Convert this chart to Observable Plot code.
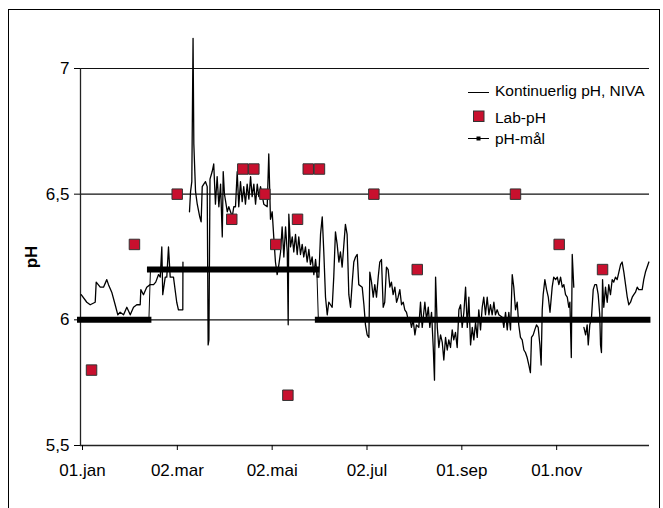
<!DOCTYPE html>
<html>
<head>
<meta charset="utf-8">
<script src="https://cdn.jsdelivr.net/npm/d3@7"></script>
<script src="https://cdn.jsdelivr.net/npm/@observablehq/plot@0.6"></script>
<style>
  html, body { margin: 0; padding: 0; background: #fff; }
  #wrap { position: relative; width: 663px; height: 508px; overflow: hidden; font-family: Arial, "Liberation Sans", sans-serif; }
  #frame { position: absolute; left: 8px; top: 9px; width: 652px; height: 520px; border: 1px solid #000; box-sizing: border-box; }
  #legend { position: absolute; left: 0; top: 0; }
  svg g[aria-label="y-axis label"] text { font-weight: bold; }
</style>
</head>
<body>
<div id="wrap"><div id="frame"></div></div>
<script>
// ---- data (day offset from 01.jan, pH) ----
const yearStart = Date.UTC(2008, 0, 1);

const continuousPH = [
  [0.45,6.10],[4.05,6.07],[6.24,6.06],[9.46,6.07],[10.1,6.15],[12.7,6.13],[14.8,6.13],[16.9,6.16],[18.0,6.14],
  [20.1,6.11],[22.3,6.06],[24.0,6.02],[25.5,6.03],[27.7,6.02],[29.8,6.05],[32.0,6.02],[34.1,6.05],[36.2,6.06],
  [38.4,6.06],[38.8,6.12],[40.5,6.10],[42.6,6.13],[44.8,6.14],[47.0,6.14],[48.4,6.15],[50.2,6.18],[51.3,6.17],
  [52.3,6.29],[52.9,6.10],[54.5,6.17],[55.5,6.17],[56.6,6.29],[57.7,6.17],[59.8,6.17],[61.9,6.07],[63.0,6.04],
  [65.8,6.04],[65.9,6.23],[66.0,NaN],
  [70.1,6.43],[70.8,6.51],[71.6,6.55],[72.4,7.12],[72.9,6.70],[74.0,6.51],[75.1,6.46],[76.7,6.41],[77.6,6.39],
  [78.3,6.53],[79.3,6.54],[80.4,6.55],[81.5,6.53],[82.1,5.90],[82.6,5.92],[83.3,6.56],[84.7,6.59],[85.7,6.62],
  [86.8,6.46],[87.9,6.57],[89.0,6.45],[90.1,6.54],[91.2,6.33],[91.8,6.59],[92.6,6.50],[94.4,6.43],[95.4,6.45],
  [96.5,6.43],[97.6,6.41],[98.6,6.45],[99.7,6.45],[100.8,6.59],[101.8,6.45],[102.9,6.55],[104.0,6.47],[105.0,6.53],
  [106.1,6.46],[107.2,6.54],[108.3,6.48],[109.4,6.57],[110.4,6.49],[111.5,6.54],[112.6,6.46],[113.7,6.54],[114.7,6.49],
  [115.8,6.53],[117.9,6.46],[120.1,6.45],[121.1,6.66],[122.2,6.40],[123.3,6.43],[124.3,6.33],[125.4,6.23],[126.5,6.18],
  [127.6,6.22],[128.7,6.27],[129.7,6.37],[130.8,6.25],[131.9,6.37],[133.0,6.27],[133.6,5.98],[134.0,6.42],[135.1,6.29],
  [136.2,6.33],[137.2,6.27],[138.3,6.34],[139.4,6.26],[140.4,6.33],[141.5,6.26],[142.6,6.30],[143.6,6.25],[144.7,6.29],
  [145.8,6.23],[146.9,6.28],[147.9,6.22],[149.0,6.25],[150.1,6.18],[151.2,6.24],[152.3,6.17],[153.3,6.17],[154.4,6.34],
  [155.5,6.41],[156.5,6.27],[157.6,6.09],[158.7,6.02],[159.7,6.07],[160.8,6.06],[161.9,6.05],[162.9,6.17],[164.0,6.35],
  [165.1,6.30],[166.2,6.23],[167.2,6.27],[168.3,6.21],[170.4,6.38],[171.5,6.34],[172.6,6.10],[173.7,6.05],[174.8,6.15],
  [175.8,6.23],[176.9,6.25],[178.0,6.26],[179.0,6.14],[181.2,6.13],[182.3,6.06],[183.3,5.98],[184.4,5.94],[185.5,5.93],
  [186.1,6.19],[187.2,6.15],[188.3,6.09],[189.3,6.14],[190.4,6.09],[191.5,6.17],[192.5,6.23],[193.6,6.24],[194.7,6.05],
  [195.7,6.07],[196.8,6.21],[197.9,6.20],[199.0,6.13],[200.0,6.15],[201.1,6.10],[202.2,6.13],[203.3,6.07],[204.3,6.09],
  [205.4,6.12],[206.5,6.06],[207.6,6.07],[208.6,6.04],[209.7,6.03],[210.8,6.00],[211.8,6.01],[212.9,5.97],[214.0,6.00],
  [215.1,5.94],[216.1,5.98],[217.6,5.97],[218.7,6.07],[219.8,5.97],[221.5,6.07],[222.6,6.00],[223.7,6.05],[224.7,5.97],
  [225.8,6.03],[226.9,5.89],[227.7,5.76],[228.4,6.17],[229.5,5.97],[230.5,5.89],[231.6,5.94],[232.7,5.91],[233.7,5.84],
  [234.8,5.93],[235.9,5.88],[236.9,5.92],[238.0,5.89],[239.1,5.96],[240.1,5.92],[241.2,5.95],[242.3,5.89],[243.4,6.04],
  [244.5,6.06],[245.5,5.97],[246.6,6.03],[247.7,6.13],[248.8,5.97],[249.8,6.09],[250.9,5.90],[252.0,5.97],[253.0,5.92],
  [254.1,5.99],[255.2,5.93],[256.2,6.04],[257.3,5.96],[258.4,6.05],[259.4,6.09],[260.5,6.02],[261.6,6.09],[262.7,6.02],
  [263.7,6.06],[264.8,6.02],[265.9,6.07],[266.9,6.02],[268.0,6.04],[269.1,6.02],[271.3,6.01],[272.3,5.97],[273.4,6.03],
  [274.5,5.96],[275.5,6.03],[276.6,5.96],[277.7,6.18],[278.7,6.13],[279.8,6.04],[280.9,6.07],[281.9,5.98],[283.0,5.93],
  [284.1,5.92],[285.2,5.88],[286.2,5.87],[287.3,5.85],[288.4,5.82],[289.4,5.79],[290.1,5.93],[291.2,5.94],[292.2,5.96],
  [293.3,5.98],[294.4,5.97],[295.5,5.90],[296.3,5.82],[297.0,6.04],[297.6,6.10],[298.7,6.16],[299.8,6.12],[300.9,6.09],
  [302.0,6.03],[303.4,6.13],[304.4,6.17],[305.6,6.16],[306.7,6.17],[307.7,6.14],[308.8,6.17],[309.9,6.13],[310.9,6.14],
  [312.0,6.10],[313.1,6.09],[314.1,6.05],[314.8,6.07],[315.7,5.85],[316.3,6.26],[317.3,6.13],[317.4,NaN],
  [323.8,5.97],[324.9,5.94],[325.9,5.98],[326.6,5.90],[327.6,5.98],[328.7,6.01],[329.8,6.12],[330.8,6.14],[331.9,6.14],
  [333.0,6.10],[334.0,6.02],[334.5,5.90],[335.1,5.87],[335.8,6.16],[336.6,6.05],[337.7,6.13],[338.8,6.07],[339.8,6.14],
  [340.9,6.10],[342.0,6.16],[343.0,6.15],[344.1,6.17],[345.2,6.16],[346.3,6.19],[347.4,6.22],[348.4,6.23],[349.5,6.19],
  [350.6,6.14],[351.7,6.09],[352.7,6.06],[353.8,6.07],[354.9,6.09],[355.9,6.10],[357.0,6.11],[358.1,6.13],[359.1,6.12],
  [360.2,6.12],[361.3,6.12],[362.3,6.16],[363.4,6.19],[364.5,6.21],[365.6,6.23]
];

const labDay = [7.1, 34.7, 62.2, 97.3, 104.4, 111.5, 118.6, 125.6, 133.4, 139.6, 146.5, 153.7, 188.7, 216.6, 279.8, 307.9, 335.8];
const labPH  = [5.8, 6.3, 6.5, 6.4, 6.6, 6.6, 6.5, 6.3, 5.7, 6.4, 6.6, 6.6, 6.5, 6.2, 6.5, 6.3, 6.2];

const targetStart = ["2008-01-01", "2008-02-15", "2008-06-02"];
const targetEnd   = ["2008-02-14", "2008-06-01", "2008-12-31"];
const targetPH    = [6.0, 6.2, 6.0];

const xTickDates  = ["2008-01-01", "2008-03-02", "2008-05-02", "2008-07-02", "2008-09-01", "2008-11-01"];
const xTickLabels = ["01.jan", "02.mar", "02.mai", "02.jul", "01.sep", "01.nov"];
const yTicks = [5.5, 6, 6.5, 7];

const seriesNames = ["Kontinuerlig pH, NIVA", "Lab-pH", "pH-mål"];

// ---- derived tables ----
const dayToDate = d => new Date(yearStart + d * 864e5);
const cont = continuousPH.map(([d, v]) => ({date: dayToDate(d), ph: v}));
const lab = labDay.map((d, i) => ({date: dayToDate(d), ph: labPH[i]}));
const target = targetPH.map((v, i) => ({start: new Date(targetStart[i]), end: new Date(targetEnd[i]), ph: v}));
const targetPath = target.flatMap(t => [{date: t.start, ph: t.ph}, {date: t.end, ph: t.ph}]);
const tickDates = xTickDates.map(s => new Date(s));
const labelByTime = new Map(tickDates.map((d, i) => [+d, xTickLabels[i]]));

const chart = Plot.plot({
  width: 663,
  height: 508,
  marginLeft: 80,
  marginRight: 14,
  marginTop: 68,
  marginBottom: 63,
  style: {fontFamily: "Arial, 'Liberation Sans', sans-serif", fontSize: "17px", color: "#000", background: "transparent"},
  x: {type: "utc", domain: [new Date("2008-01-01"), new Date("2009-01-01")]},
  y: {domain: [5.5, 7]},
  marks: [
    Plot.gridY(yTicks.filter(t => t > 5.5), {stroke: "#111", strokeOpacity: 1, strokeWidth: 1.2}),
    Plot.ruleY([5.5], {stroke: "#222", strokeWidth: 1.3}),
    Plot.ruleX([new Date("2008-01-01")], {y1: 5.5, y2: 7, stroke: "#222", strokeWidth: 1.3}),
    Plot.axisY({ticks: yTicks, tickFormat: d => String(d).replace(".", ","), tickSize: 6, tickPadding: 5, fontSize: 17,
      label: "pH", labelAnchor: "center", labelArrow: "none", labelOffset: 56}),
    Plot.axisX({ticks: tickDates, tickFormat: d => labelByTime.get(+d), tickSize: 5, tickPadding: 13, fontSize: 17, label: null, dx: 2}),
    // continuous pH
    Plot.line(cont, {x: "date", y: "ph", stroke: "#000", strokeWidth: 1.3}),
    // pH target: thin connecting line plus thick marker band
    Plot.line(targetPath, {x: "date", y: "ph", stroke: "#000", strokeWidth: 1}),
    Plot.ruleY(target, {y: "ph", x1: "start", x2: "end", stroke: "#000", strokeWidth: 6, strokeLinecap: "square"}),
    // lab pH
    Plot.dot(lab, {x: "date", y: "ph", symbol: "square", r: 5.9, fill: "#c8102e", stroke: "#333", strokeWidth: 1})
  ]
});
const wrap = document.getElementById("wrap");
chart.style.position = "absolute";
chart.style.left = "0";
chart.style.top = "0";
wrap.appendChild(chart);

// legend (overlay with real text)
const ns = "http://www.w3.org/2000/svg";
const leg = document.createElementNS(ns, "svg");
leg.setAttribute("id", "legend");
leg.setAttribute("width", 663);
leg.setAttribute("height", 508);
leg.innerHTML = `
  <line x1="468" x2="489" y1="92.5" y2="92.5" stroke="#000" stroke-width="1"/>
  <rect x="473.5" y="111" width="10.5" height="10.5" fill="#c8102e" stroke="#333" stroke-width="1"/>
  <line x1="468" x2="489" y1="138.5" y2="138.5" stroke="#000" stroke-width="1"/>
  <rect x="476.5" y="136.5" width="4" height="4" fill="#000"/>
  <g font-family="Arial, 'Liberation Sans', sans-serif" font-size="15.5" fill="#000">
    <text x="495" y="90" dominant-baseline="central">${seriesNames[0]}</text>
    <text x="495" y="117" dominant-baseline="central">${seriesNames[1]}</text>
    <text x="495" y="138.5" dominant-baseline="central">${seriesNames[2]}</text>
  </g>`;
wrap.appendChild(leg);
</script>
</body>
</html>
